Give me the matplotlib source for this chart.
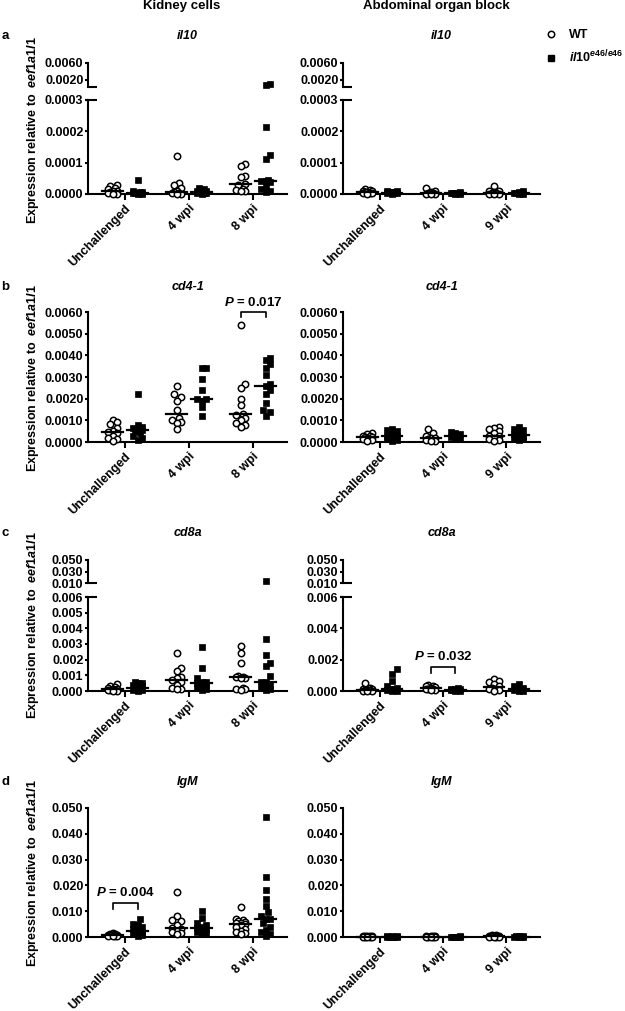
import matplotlib.pyplot as plt
import numpy as np
from matplotlib.lines import Line2D
from matplotlib.ticker import FormatStrFormatter

W, H = 625, 1011

plt.rcParams["font.family"] = "Liberation Sans"
plt.rcParams["font.weight"] = "bold"
plt.rcParams["font.size"] = 9
plt.rcParams["mathtext.fontset"] = "custom"
plt.rcParams["mathtext.rm"] = "Liberation Sans:bold"
plt.rcParams["mathtext.it"] = "Liberation Sans:italic:bold"
plt.rcParams["mathtext.bf"] = "Liberation Sans:bold"

kidney_groups = ["Unchallenged", "4 wpi", "8 wpi"]
abdominal_groups = ["Unchallenged", "4 wpi", "9 wpi"]

# il10
il10_kidney_wt = [
    [3.0e-5, 2.5e-5, 2.0e-5, 1.5e-5, 1.0e-5, 8e-6, 5e-6, 3e-6, 2e-6, 1e-6, 5e-7],
    [1.21e-4, 3.5e-5, 3.0e-5, 2.0e-5, 8e-6, 5e-6, 3e-6, 2e-6, 1e-6, 1e-6],
    [9.5e-5, 8.9e-5, 5.6e-5, 5.4e-5, 3.2e-5, 3.0e-5, 1.5e-5, 1.2e-5, 1.0e-5, 8e-6],
]
il10_kidney_mut = [
    [4.5e-5, 8e-6, 6e-6, 5e-6, 4e-6, 3e-6, 2e-6, 2e-6, 1e-6, 1e-6],
    [2.0e-5, 1.5e-5, 1.0e-5, 8e-6, 6e-6, 5e-6, 4e-6, 3e-6, 2e-6, 1e-6],
    [1.0e-3, 7.0e-4, 2.14e-4, 1.25e-4, 1.12e-4, 4.5e-5, 4.2e-5, 4.0e-5, 3.8e-5, 2.5e-5, 1.5e-5, 1.0e-5, 5e-6],
]
il10_abdominal_wt = [
    [1.5e-5, 1.2e-5, 1.0e-5, 8e-6, 6e-6, 5e-6, 4e-6, 3e-6, 2e-6, 1e-6],
    [2.0e-5, 8e-6, 5e-6, 3e-6, 2e-6, 1e-6, 1e-6, 5e-7],
    [2.7e-5, 1.0e-5, 8e-6, 5e-6, 3e-6, 2e-6, 1e-6, 1e-6, 5e-7],
]
il10_abdominal_mut = [
    [1.0e-5, 8e-6, 7e-6, 5e-6, 4e-6, 3e-6, 2e-6, 1e-6],
    [5e-6, 4e-6, 3e-6, 2e-6, 2e-6, 1e-6, 1e-6],
    [8e-6, 6e-6, 4e-6, 3e-6, 2e-6, 1e-6, 1e-6],
]

# cd4-1
cd4_kidney_wt = [
    [1.01e-3, 9.4e-4, 8.2e-4, 6.5e-4, 5.2e-4, 4.5e-4, 4.0e-4, 2.8e-4, 2.0e-4, 1.2e-4, 5e-5],
    [2.6e-3, 2.2e-3, 2.1e-3, 1.9e-3, 1.5e-3, 1.1e-3, 1.0e-3, 9.2e-4, 9.0e-4, 5.8e-4],
    [5.4e-3, 2.7e-3, 2.5e-3, 2.0e-3, 1.7e-3, 1.3e-3, 1.25e-3, 1.1e-3, 1.0e-3, 9e-4, 8e-4, 7e-4],
]
cd4_kidney_mut = [
    [2.2e-3, 7.8e-4, 7.0e-4, 6.6e-4, 6.0e-4, 5.5e-4, 5.2e-4, 4.2e-4, 3.0e-4, 1.8e-4, 1.0e-4],
    [3.4e-3, 3.4e-3, 2.9e-3, 2.4e-3, 2.0e-3, 2.0e-3, 1.9e-3, 1.6e-3, 1.2e-3],
    [3.9e-3, 3.8e-3, 3.6e-3, 3.4e-3, 3.1e-3, 2.7e-3, 2.6e-3, 2.4e-3, 2.2e-3, 1.8e-3, 1.5e-3, 1.4e-3, 1.2e-3],
]
cd4_abdominal_wt = [
    [4.0e-4, 3.5e-4, 3.0e-4, 2.8e-4, 2.5e-4, 2.2e-4, 2.0e-4, 1.5e-4, 1.0e-4, 5e-5],
    [6.0e-4, 4.0e-4, 3.0e-4, 2.0e-4, 1.8e-4, 1.5e-4, 1.0e-4, 8e-5, 5e-5, 3e-5],
    [6.8e-4, 6.4e-4, 6.0e-4, 5.2e-4, 4.0e-4, 3.0e-4, 2.8e-4, 2.0e-4, 1.5e-4, 1.0e-4, 5e-5],
]
cd4_abdominal_mut = [
    [6.0e-4, 5.5e-4, 5.0e-4, 4.5e-4, 3.0e-4, 2.8e-4, 2.0e-4, 1.5e-4, 1.0e-4, 5e-5],
    [4.5e-4, 4.0e-4, 3.5e-4, 3.0e-4, 2.8e-4, 2.5e-4, 2.0e-4, 1.5e-4],
    [6.8e-4, 6.0e-4, 5.5e-4, 5.0e-4, 3.5e-4, 3.0e-4, 2.5e-4, 2.0e-4, 1.5e-4, 1.0e-4],
]

# cd8a
cd8a_kidney_wt = [
    [4.5e-4, 3.0e-4, 2.5e-4, 2.0e-4, 1.5e-4, 1.0e-4, 8e-5, 6e-5, 4e-5, 2e-5, 1e-5],
    [2.4e-3, 1.5e-3, 1.3e-3, 9.2e-4, 8.5e-4, 7.0e-4, 6.0e-4, 4.0e-4, 2.2e-4, 1.5e-4, 1.0e-4],
    [2.9e-3, 2.4e-3, 1.8e-3, 9.5e-4, 9.0e-4, 8.8e-4, 8.5e-4, 8.0e-4, 2.2e-4, 1.5e-4, 1.0e-4, 5e-5],
]
cd8a_kidney_mut = [
    [5.5e-4, 5.0e-4, 4.8e-4, 4.0e-4, 3.0e-4, 2.0e-4, 1.5e-4, 1.0e-4, 8e-5, 5e-5, 2e-5],
    [2.8e-3, 1.5e-3, 8.5e-4, 6.0e-4, 5.5e-4, 4.8e-4, 4.0e-4, 3.0e-4, 2.0e-4, 1.0e-4, 5e-5],
    [1.3e-2, 3.3e-3, 2.3e-3, 1.8e-3, 1.6e-3, 9.5e-4, 6.0e-4, 5.5e-4, 4.0e-4, 3.0e-4, 2.0e-4, 1.0e-4, 5e-5],
]
cd8a_abdominal_wt = [
    [5.0e-4, 2.0e-4, 1.5e-4, 1.0e-4, 8e-5, 5e-5, 4e-5, 3e-5, 2e-5, 1e-5],
    [4.0e-4, 3.5e-4, 3.0e-4, 2.5e-4, 2.0e-4, 1.5e-4, 1.2e-4, 1.0e-4, 8e-5, 5e-5],
    [7.8e-4, 6.5e-4, 6.0e-4, 4.5e-4, 3.0e-4, 2.0e-4, 1.5e-4, 1.0e-4, 5e-5, 3e-5],
]
cd8a_abdominal_mut = [
    [1.4e-3, 1.1e-3, 6.5e-4, 3.0e-4, 2.0e-4, 1.2e-4, 1.0e-4, 8e-5, 5e-5, 3e-5, 2e-5],
    [2.0e-4, 1.5e-4, 1.2e-4, 1.0e-4, 8e-5, 6e-5, 5e-5, 3e-5, 2e-5],
    [4.5e-4, 3.0e-4, 2.0e-4, 1.5e-4, 1.0e-4, 8e-5, 5e-5, 3e-5, 2e-5],
]

# IgM
igm_kidney_wt = [
    [1.5e-3, 1.2e-3, 1.0e-3, 9e-4, 8e-4, 7e-4, 6e-4, 5e-4, 4e-4, 3e-4, 2e-4],
    [1.75e-2, 8.3e-3, 6.7e-3, 6.3e-3, 4.5e-3, 3.5e-3, 3.0e-3, 2.5e-3, 2.0e-3, 1.5e-3, 1.0e-3],
    [1.15e-2, 6.8e-3, 6.5e-3, 6.2e-3, 6.0e-3, 5.6e-3, 5.3e-3, 5.0e-3, 4.5e-3, 4.0e-3, 3.0e-3, 2.5e-3, 2.0e-3, 1.5e-3, 1.0e-3],
]
igm_kidney_mut = [
    [6.8e-3, 5.0e-3, 4.5e-3, 4.0e-3, 3.0e-3, 2.5e-3, 2.0e-3, 1.8e-3, 1.5e-3, 1.0e-3, 8e-4, 5e-4],
    [1.02e-2, 7.2e-3, 5.5e-3, 4.5e-3, 4.0e-3, 3.3e-3, 3.0e-3, 2.5e-3, 2.0e-3, 1.5e-3, 1.0e-3],
    [4.65e-2, 2.32e-2, 1.83e-2, 1.46e-2, 1.2e-2, 9.5e-3, 8.2e-3, 7.0e-3, 6.8e-3, 5.5e-3, 4.0e-3, 2.8e-3, 2.0e-3, 1.2e-3, 5e-4],
]
igm_abdominal_wt = [
    [5e-4, 4e-4, 3e-4, 2.5e-4, 2e-4, 1.5e-4, 1e-4, 8e-5, 5e-5, 3e-5],
    [4e-4, 3e-4, 2.5e-4, 2e-4, 1.5e-4, 1e-4, 8e-5, 5e-5, 3e-5],
    [8e-4, 6e-4, 5e-4, 4e-4, 3e-4, 2e-4, 1.5e-4, 1e-4, 5e-5, 3e-5],
]
igm_abdominal_mut = [
    [3e-4, 2.5e-4, 2e-4, 1.5e-4, 1e-4, 8e-5, 5e-5, 3e-5],
    [2e-4, 1.5e-4, 1.2e-4, 1e-4, 8e-5, 5e-5, 3e-5],
    [3e-4, 2.5e-4, 2e-4, 1.5e-4, 1e-4, 8e-5, 5e-5],
]

XLIM = (-0.58, 2.53)
PAIR = 0.195
LW = 1.5
DIAM_PX = 6.5


def px_axes(fig, left, top, right, bottom):
    return fig.add_axes([left / W, 1 - bottom / H, (right - left) / W, (bottom - top) / H])


def swarm(y_px, px_per_unit, step=2.3, nsteps=2):
    # spread overlapping points sideways, like a dot plot; overlap allowed when crowded
    order = np.argsort(-np.asarray(y_px))
    cands = [0.0]
    for k in range(1, nsteps + 1):
        cands += [k * step, -k * step]
    placed = []
    offs = np.zeros(len(y_px))
    for i in order:
        y = y_px[i]
        best, best_d = 0.0, -1.0
        for c in cands:
            d = min([np.hypot(c - px, y - py) for px, py in placed], default=np.inf)
            if d >= DIAM_PX * 0.95:
                best = c
                break
            if d > best_d:
                best, best_d = c, d
        offs[i] = best
        placed.append((best, y))
    return offs / px_per_unit


def style_axis(ax, lw=LW):
    for s in ["top", "right"]:
        ax.spines[s].set_visible(False)
    for s in ["left", "bottom"]:
        ax.spines[s].set_linewidth(lw)
    ax.tick_params(axis="y", direction="out", length=2.5, width=lw, pad=0.8, labelsize=9)
    ax.tick_params(axis="x", direction="out", length=4, width=lw, pad=2, labelsize=9)


def cap(ax, ypos, axw_px, left_px=0):
    ax.plot([-left_px / axw_px, 9 / axw_px], [ypos, ypos], transform=ax.transAxes,
            color="black", lw=LW, clip_on=False, solid_capstyle="butt")


def draw_panel(fig, xr, low_rows, low_lim, low_ticks, fmt, wt, mut, cats,
               up_rows=None, up_lim=None, up_ticks=None):
    axw = xr[1] - xr[0]
    ppu = axw / (XLIM[1] - XLIM[0])
    low = px_axes(fig, xr[0], low_rows[0], xr[1], low_rows[1])
    low.set_xlim(*XLIM)
    low.set_ylim(*low_lim)
    low.set_yticks(low_ticks)
    low.yaxis.set_major_formatter(FormatStrFormatter(fmt))
    low.set_xticks(range(len(cats)))
    low.set_xticklabels(cats, rotation=45, ha="right", rotation_mode="anchor")
    style_axis(low)
    up = None
    if up_rows is not None:
        up = px_axes(fig, xr[0], up_rows[0], xr[1], up_rows[1])
        up.set_xlim(*XLIM)
        up.set_ylim(*up_lim)
        up.set_yticks(up_ticks)
        up.yaxis.set_major_formatter(FormatStrFormatter(fmt))
        style_axis(up)
        up.spines["bottom"].set_visible(False)
        up.set_xticks([])
        up.patch.set_visible(False)
        cap(up, 0, axw)
        cap(low, 1, axw, left_px=3)

    def to_px(v):
        if up is not None and v > low_lim[1]:
            frac = (v - up_lim[0]) / (up_lim[1] - up_lim[0])
            return up_rows[1] - frac * (up_rows[1] - up_rows[0])
        frac = (v - low_lim[0]) / (low_lim[1] - low_lim[0])
        return low_rows[1] - frac * (low_rows[1] - low_rows[0])

    for i in range(len(cats)):
        for vals, xc, marker in [(wt[i], i - PAIR, "o"), (mut[i], i + PAIR, "s")]:
            v = np.asarray(vals)
            ypx = np.array([to_px(x) for x in v])
            xs = xc + swarm(ypx, ppu)
            if marker == "o":
                kw = dict(marker="o", ms=4.6, mfc="white", mec="black", mew=1.1)
            else:
                kw = dict(marker="s", ms=3.9, mfc="black", mec="black", mew=0.5)
            in_up = v > low_lim[1]
            low.plot(xs[~in_up], v[~in_up], ls="none", clip_on=False, zorder=3, **kw)
            if up is not None and in_up.any():
                up.plot(xs[in_up], v[in_up], ls="none", clip_on=False, zorder=3, **kw)
            med = np.median(v)
            low.plot([xc - 0.16, xc + 0.16], [med, med], color="black", lw=1.6,
                     zorder=4, clip_on=False)
    return low, up


def bracket(ax, x1, x2, y_top, y_leg, label, y_text):
    ax.plot([x1, x1, x2, x2], [y_leg, y_top, y_top, y_leg], color="black", lw=1.2,
            clip_on=False, zorder=4)
    ax.text((x1 + x2) / 2, y_text, label, ha="center", va="center", fontsize=9.5)


fig = plt.figure(figsize=(W / 100, H / 100), dpi=100)

LEFT = (88, 287)
RIGHT = (343, 540)

# row a: il10 with broken axis
a_up_ticks = [0.0020, 0.0060]
a_low_ticks = [0.0, 0.0001, 0.0002, 0.0003]
draw_panel(fig, LEFT, (100, 194), (0, 0.0003), a_low_ticks, "%.4f",
           il10_kidney_wt, il10_kidney_mut, kidney_groups,
           up_rows=(63, 87), up_lim=(0.0003, 0.0060), up_ticks=a_up_ticks)
draw_panel(fig, RIGHT, (100, 194), (0, 0.0003), a_low_ticks, "%.4f",
           il10_abdominal_wt, il10_abdominal_mut, abdominal_groups,
           up_rows=(63, 87), up_lim=(0.0003, 0.0060), up_ticks=a_up_ticks)

# row b: cd4-1
b_ticks = np.arange(0, 0.0061, 0.001)
bl, _ = draw_panel(fig, LEFT, (312, 442), (0, 0.006), b_ticks, "%.4f",
                   cd4_kidney_wt, cd4_kidney_mut, kidney_groups)
draw_panel(fig, RIGHT, (312, 442), (0, 0.006), b_ticks, "%.4f",
           cd4_abdominal_wt, cd4_abdominal_mut, abdominal_groups)
bracket(bl, 2 - PAIR, 2 + PAIR, 0.0060, 0.00577, r"$\mathit{P}$ = 0.017", 0.00646)

# row c: cd8a with broken axis
c_up_ticks = [0.010, 0.030, 0.050]
draw_panel(fig, LEFT, (597, 691), (0, 0.006), np.arange(0, 0.0061, 0.001), "%.3f",
           cd8a_kidney_wt, cd8a_kidney_mut, kidney_groups,
           up_rows=(560, 583), up_lim=(0.010, 0.050), up_ticks=c_up_ticks)
cr, _ = draw_panel(fig, RIGHT, (597, 691), (0, 0.006), [0, 0.002, 0.004, 0.006], "%.3f",
                   cd8a_abdominal_wt, cd8a_abdominal_mut, abdominal_groups,
                   up_rows=(560, 583), up_lim=(0.010, 0.050), up_ticks=c_up_ticks)
bracket(cr, 1 - PAIR, 1 + PAIR, 0.00153, 0.00117, r"$\mathit{P}$ = 0.032", 0.0022)

# row d: IgM
d_ticks = np.arange(0, 0.051, 0.01)
dl, _ = draw_panel(fig, LEFT, (808, 937), (0, 0.05), d_ticks, "%.3f",
                   igm_kidney_wt, igm_kidney_mut, kidney_groups)
draw_panel(fig, RIGHT, (808, 937), (0, 0.05), d_ticks, "%.3f",
           igm_abdominal_wt, igm_abdominal_mut, abdominal_groups)
bracket(dl, -PAIR, PAIR, 0.0132, 0.0110, r"$\mathit{P}$ = 0.004", 0.0174)

# texts
fig.text(182 / W, 1 - 6 / H, "Kidney cells", ha="center", va="center", fontsize=9.5)
fig.text(436 / W, 1 - 6 / H, "Abdominal organ block", ha="center", va="center", fontsize=9.5)

genes = ["il10", "cd4-1", "cd8a", "IgM"]
gene_y = [36, 287, 533, 782]
letters = ["a", "b", "c", "d"]
ylab_y = [130, 378, 625, 873]
for g, gy, letter, ly in zip(genes, gene_y, letters, ylab_y):
    fig.text(sum(LEFT) / 2 / W, 1 - gy / H, g, ha="center", va="center", style="italic", fontsize=9)
    fig.text(sum(RIGHT) / 2 / W, 1 - gy / H, g, ha="center", va="center", style="italic", fontsize=9)
    fig.text(5 / W, 1 - gy / H, letter, ha="center", va="center", fontsize=9.5)
    fig.text(33 / W, 1 - ly / H, r"Expression relative to  $\mathit{eef1a1l1}$",
             ha="center", va="center", rotation=90, fontsize=9)

handles = [
    Line2D([], [], ls="none", marker="o", ms=4.6, mfc="white", mec="black", mew=1.1),
    Line2D([], [], ls="none", marker="s", ms=3.9, mfc="black", mec="black"),
]
fig.legend(handles, ["WT", r"$\mathit{il10^{e46/e46}}$"], loc="upper left",
           bbox_to_anchor=(538 / W, 1 - 24 / H), frameon=False, handlelength=1.2,
           handletextpad=0.9, labelspacing=0.6, fontsize=9, borderaxespad=0)

fig.savefig("out.png", dpi=100)
